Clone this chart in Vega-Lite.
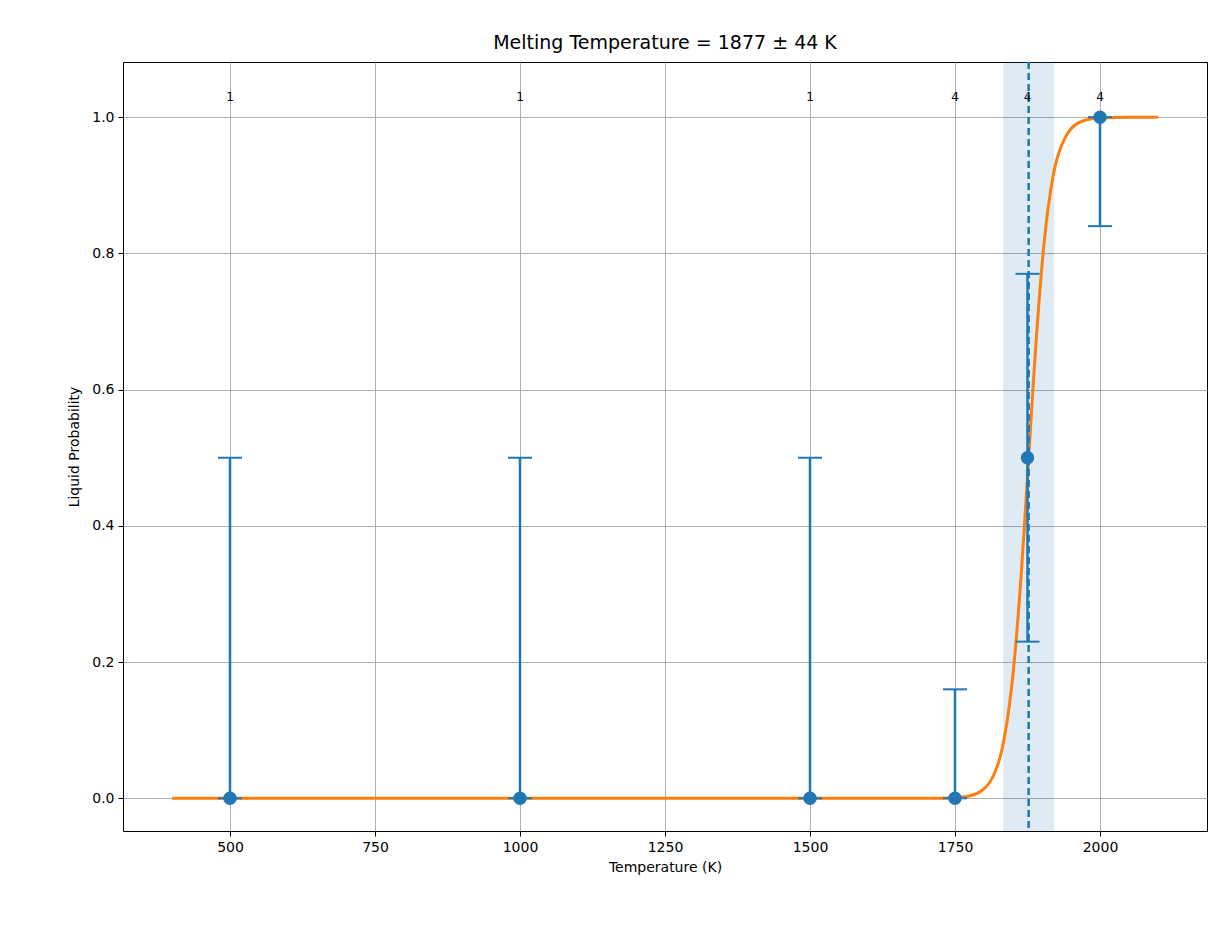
{
"$schema":"https://vega.github.io/schema/vega-lite/v6.json",
"width":1084,"height":769,
"autosize":"none",
"padding":{"left":123,"top":62,"right":20,"bottom":108},
"background":"white",
"config":{"font":"DejaVu Sans","view":{"stroke":"black","strokeWidth":1}},
"title":{"text":"Melting Temperature = 1877 ± 44 K","fontSize":19,"fontWeight":"normal","offset":8,"color":"black"},
"datasets":{
"pts":[{"T":500,"p":0,"lo":0,"hi":0.5,"n":"1"},{"T":1000,"p":0,"lo":0,"hi":0.5,"n":"1"},{"T":1500,"p":0,"lo":0,"hi":0.5,"n":"1"},{"T":1750,"p":0,"lo":0,"hi":0.16,"n":"4"},{"T":1875,"p":0.5,"lo":0.23,"hi":0.77,"n":"4"},{"T":2000,"p":1,"lo":0.84,"hi":1,"n":"4"}],
"fit":[{"T":400,"p":0},{"T":1000,"p":0},{"T":1600,"p":0},{"T":1700,"p":0.00005},{"T":1750,"p":0.0009},{"T":1775,"p":0.0034},{"T":1790,"p":0.0079},{"T":1800,"p":0.0137},{"T":1810,"p":0.0235},{"T":1820,"p":0.0405},{"T":1830,"p":0.068},{"T":1840,"p":0.114},{"T":1845,"p":0.145},{"T":1850,"p":0.182},{"T":1855,"p":0.227},{"T":1860,"p":0.28},{"T":1865,"p":0.339},{"T":1870,"p":0.404},{"T":1877,"p":0.5},{"T":1881,"p":0.555},{"T":1885,"p":0.609},{"T":1890,"p":0.673},{"T":1895,"p":0.731},{"T":1900,"p":0.783},{"T":1905,"p":0.826},{"T":1910,"p":0.863},{"T":1915,"p":0.892},{"T":1922,"p":0.926},{"T":1930,"p":0.95},{"T":1940,"p":0.97},{"T":1950,"p":0.983},{"T":1962,"p":0.9913},{"T":1975,"p":0.9957},{"T":2000,"p":0.9989},{"T":2050,"p":0.99994},{"T":2100,"p":1}],
"band":[{"a":1833,"b":1921,"m":1877}]
},
"layer":[
{"data":{"name":"band"},"mark":{"type":"rect","color":"#1f77b4","opacity":0.15},
 "encoding":{"x":{"field":"a","type":"quantitative","scale":{"domain":[315.5,2184.5],"nice":false,"zero":false},
   "axis":{"title":"Temperature (K)","values":[500,750,1000,1250,1500,1750,2000],"format":"d","grid":true,"gridColor":"#b0b0b0","domain":false,"tickColor":"black","tickSize":5,"labelFontSize":14,"labelColor":"black","titleFontSize":14,"titleFontWeight":"normal","titleColor":"black","labelPadding":4,"titlePadding":6}},
   "x2":{"field":"b"},
   "y":{"datum":-0.048,"type":"quantitative","scale":{"domain":[-0.048,1.081],"nice":false,"zero":false},
   "axis":{"title":"Liquid Probability","values":[0,0.2,0.4,0.6,0.8,1.0],"format":".1f","grid":true,"gridColor":"#b0b0b0","domain":false,"tickColor":"black","tickSize":5,"labelFontSize":14,"labelColor":"black","titleFontSize":14,"titleFontWeight":"normal","titleColor":"black","labelPadding":4,"titlePadding":10}},
   "y2":{"datum":1.081}}},
{"data":{"name":"fit"},"mark":{"type":"line","color":"#ff7f0e","strokeWidth":3,"interpolate":"monotone"},
 "encoding":{"x":{"field":"T","type":"quantitative"},"y":{"field":"p","type":"quantitative"}}},
{"data":{"name":"pts"},"mark":{"type":"rule","color":"#1f77b4","strokeWidth":2.5},
 "encoding":{"x":{"field":"T","type":"quantitative"},"y":{"field":"lo","type":"quantitative"},"y2":{"field":"hi"}}},
{"data":{"name":"pts"},"mark":{"type":"tick","orient":"horizontal","color":"#1f77b4","size":24,"thickness":2,"opacity":1},
 "encoding":{"x":{"field":"T","type":"quantitative"},"y":{"field":"lo","type":"quantitative"}}},
{"data":{"name":"pts"},"mark":{"type":"tick","orient":"horizontal","color":"#1f77b4","size":24,"thickness":2,"opacity":1},
 "encoding":{"x":{"field":"T","type":"quantitative"},"y":{"field":"hi","type":"quantitative"}}},
{"data":{"name":"band"},"mark":{"type":"rule","color":"#1f77b4","strokeWidth":2.5,"strokeDash":[7,4]},
 "encoding":{"x":{"field":"m","type":"quantitative"}}},
{"data":{"name":"pts"},"mark":{"type":"point","filled":true,"opacity":1,"color":"#1f77b4","size":180},
 "encoding":{"x":{"field":"T","type":"quantitative"},"y":{"field":"p","type":"quantitative"}}},
{"data":{"name":"pts"},"mark":{"type":"text","fontSize":12,"color":"black"},
 "encoding":{"x":{"field":"T","type":"quantitative"},"y":{"datum":1.03,"type":"quantitative"},"text":{"field":"n"}}}
]
}
